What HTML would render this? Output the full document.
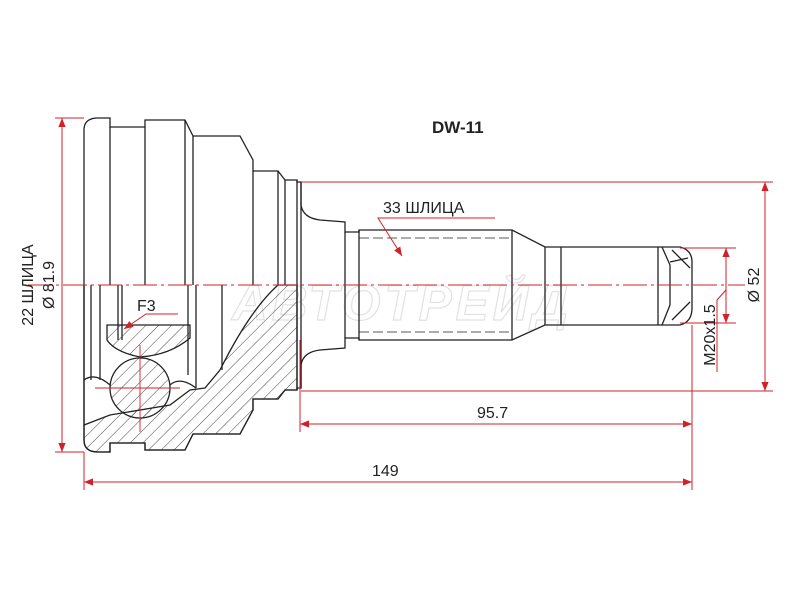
<!DOCTYPE html>
<html><head><meta charset="utf-8"><style>
html,body{margin:0;padding:0;background:#fff;}
svg{display:block}
text{font-family:"Liberation Sans",sans-serif;}
</style></head><body>
<svg width="800" height="600" viewBox="0 0 800 600" xmlns="http://www.w3.org/2000/svg">
<defs>
<pattern id="h" patternUnits="userSpaceOnUse" width="9" height="9" patternTransform="rotate(45)">
<line x1="0" y1="0" x2="0" y2="9" stroke="#333" stroke-width="0.9"/>
</pattern>
<marker id="a" viewBox="0 0 10 10" refX="10" refY="5" markerWidth="9" markerHeight="9" orient="auto-start-reverse" markerUnits="userSpaceOnUse">
<path d="M0,1 L10,5 L0,9 z" fill="#d0202a"/>
</marker>
</defs>
<rect width="800" height="600" fill="#fff"/>
<text x="232" y="320" font-size="50" font-style="italic" font-weight="bold" fill="none" stroke="#e2e2e2" stroke-width="1.2" letter-spacing="4" textLength="340" lengthAdjust="spacingAndGlyphs">АВТОТРЕЙД</text>

<g fill="none" stroke="#222" stroke-width="1.3">
<path d="M84,285 L84,130 Q84,118 98,118 L110,118 L110,127 L145,127 L145,120 L185,120 L193,136 L240,136 L253,160 L253,171 L278,171 L285,180 L297,180 L297,182 L301,182 L301,205 Q303,218 320,220 L345,222 L345,232 L359,232 L359,230 L512,230 L545,247 L561,247 L658,247 L658,247"/>
<path d="M658,247 L680,247 Q692,250 692,262 L692,308 Q692,322 680,325 L658,325"/>
<path d="M84,285 L84,440 Q84,452 98,452 L110,452 L110,443 L145,443 L145,450 L185,450 L193,434 L240,434 L253,410 L253,399 L278,399 L285,390 L297,390 L297,388 L301,388 L301,365 Q303,352 320,350 L345,348 L345,338 L359,338 L359,340 L512,340 L545,325 L658,325"/>
<line x1="110" y1="127" x2="110" y2="285"/>
<line x1="145" y1="127" x2="145" y2="285"/>
<line x1="185" y1="120" x2="185" y2="285"/>
<line x1="193" y1="136" x2="193" y2="285"/>
<line x1="253" y1="171" x2="253" y2="285"/>
<line x1="278" y1="171" x2="278" y2="285"/>
<line x1="285" y1="180" x2="285" y2="285"/>
<line x1="297" y1="180" x2="297" y2="390"/>
<line x1="301" y1="182" x2="301" y2="388"/>
<line x1="359" y1="230" x2="359" y2="340"/>
<line x1="345" y1="232" x2="345" y2="338"/>
<line x1="512" y1="230" x2="512" y2="340"/>
<line x1="545" y1="247" x2="545" y2="325"/>
<line x1="561" y1="247" x2="561" y2="325"/>
<line x1="658" y1="247" x2="658" y2="325"/>
<path d="M662,247 L670,265 L670,305 L662,325 M672,250 L690,268 M670,262 L688,258 M672,320 L690,302"/>
<line x1="359" y1="238" x2="512" y2="238" stroke-dasharray="10,4" stroke-width="0.8"/>
<line x1="359" y1="332" x2="512" y2="332" stroke-dasharray="10,4" stroke-width="0.8"/>
</g>

<path d="M84,285 L84,440 Q84,452 98,452 L110,452 L110,443 L145,443 L145,450 L185,450 L193,434 L240,434 L253,410 L253,399 L278,399 L285,390 L297,390 L297,285 L278,285 Q250,310 220,370 L205,388 L190,390 L170,405 L110,415 L84,425 Z M107,325 L190,325 L190,338 Q170,355 140,357 Q115,352 107,340 Z" fill="url(#h)" stroke="#222" stroke-width="1.3"/>
<circle cx="140" cy="388" r="30" fill="url(#h)" stroke="#222" stroke-width="1.3"/>
<g fill="none" stroke="#222" stroke-width="1.3">
<line x1="91" y1="285" x2="91" y2="380"/>
<line x1="100" y1="285" x2="100" y2="380"/>
<line x1="118" y1="285" x2="118" y2="340"/>
<line x1="122" y1="285" x2="122" y2="340"/>
<line x1="188" y1="285" x2="188" y2="375"/>
<line x1="196" y1="285" x2="196" y2="388"/>
<line x1="222" y1="285" x2="222" y2="370"/>
<path d="M84,380 Q95,372 110,385 M170,385 Q180,376 196,388"/>
</g>
<g stroke="#d0202a" stroke-width="0.9" fill="none">
<line x1="140" y1="345" x2="140" y2="432"/>
<line x1="95" y1="388" x2="180" y2="388"/>
<line x1="28" y1="285" x2="745" y2="285" stroke-dasharray="24,4,3,4"/>
</g>

<g stroke="#d0202a" stroke-width="1" fill="none">
<line x1="55" y1="118" x2="84" y2="118"/>
<line x1="55" y1="452" x2="84" y2="452"/>
<line x1="62" y1="118" x2="62" y2="452" marker-start="url(#a)" marker-end="url(#a)"/>
<line x1="84" y1="452" x2="84" y2="490"/>
<line x1="692" y1="325" x2="692" y2="490"/>
<line x1="84" y1="482" x2="692" y2="482" marker-start="url(#a)" marker-end="url(#a)"/>
<line x1="300" y1="340" x2="300" y2="432"/>
<line x1="300" y1="424" x2="692" y2="424" marker-start="url(#a)" marker-end="url(#a)"/>
<line x1="301" y1="182" x2="773" y2="182"/>
<line x1="301" y1="391" x2="773" y2="391"/>
<line x1="765" y1="182" x2="765" y2="391" marker-start="url(#a)" marker-end="url(#a)"/>
<line x1="680" y1="248" x2="736" y2="248"/>
<line x1="680" y1="323" x2="736" y2="323"/>
<line x1="726" y1="248" x2="726" y2="323" marker-start="url(#a)" marker-end="url(#a)"/>
<path d="M717,372 L717,300 L726,290"/>
<path d="M495,218 L378,218 L402,256" marker-end="url(#a)"/>
<path d="M178,314 L146,314 L124,329" marker-end="url(#a)"/>
</g>

<g fill="#222" font-size="16">
<text x="432" y="133" font-weight="bold" font-size="17">DW-11</text>
<text x="383" y="213">33 ШЛИЦА</text>
<text x="137" y="311">F3</text>
<text x="477" y="418">95.7</text>
<text x="372" y="476">149</text>
<text transform="translate(54,285) rotate(-90)" text-anchor="middle">Ø 81.9</text>
<text transform="translate(33,285) rotate(-90)" text-anchor="middle">22 ШЛИЦА</text>
<text transform="translate(759,285) rotate(-90)" text-anchor="middle">Ø 52</text>
<text transform="translate(715,335) rotate(-90)" text-anchor="middle">M20x1.5</text>
</g>
</svg>
</body></html>
